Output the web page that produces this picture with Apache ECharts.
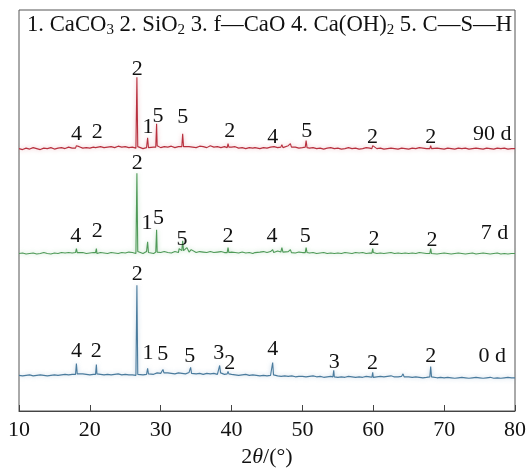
<!DOCTYPE html>
<html>
<head>
<meta charset="utf-8">
<script src="https://cdn.jsdelivr.net/npm/echarts@6/dist/echarts.min.js"></script>
<style>
html,body{margin:0;padding:0;background:#fff;}
#chart{width:529px;height:473px;}
</style>
</head>
<body>
<div id="chart"></div>
<script>
// 2θ grid of the baseline samples (10 … 80, every 0.5°)
const thetaStart = 10, thetaStep = 0.5;

// baseline noise (intensity above each trace's baseline), read/
const noise90d = [
 0,-1,0.5,-0.5,1,0,-1,0.5,0,1,
 -0.5,0.5,1,0,1.5,0.5,1,2,0.5,1,
 0.5,1.5,1,2,1,1.5,2,1,2.5,1.5,
 2,1,1.5,0.5,2,0,1,2,1.5,3,
 1,2,1.5,2.5,1,2,1,3,2,1.5,
 1,2.5,2,1,3,1.5,2,1,2,2.5,
 1.5,2,0.5,1,0,1,0.5,1.5,0,1,
 0.5,1.5,2,1,2.5,1.5,3,1,1.5,0.5,
 1,2,0.5,1,0,0.5,-0.5,0.5,1,0,
 0.5,-0.5,0,1,0,0.5,-0.5,0,1,0.5,
 1,0,0.5,-0.5,0,0.5,0,-0.5,0.5,0,
 -0.5,0.5,0,1,0.5,0,-0.5,0,0.5,0,
 -0.5,0.5,0,-0.5,0.5,0,0.5,-0.5,0,0.5,
 0,-0.5,0.5,0,-0.5,0.5,0,0.5,-0.5,0,
 0
];
const noise7d = [
 0,0.5,-0.5,0,0.5,-0.5,0,1,0,-0.5,
 0.5,0,1,0.5,1,0.5,1.5,0.5,1,0,
 0.5,1,0,1,0.5,0,1,0.5,0,1,
 0.5,1.5,1,0,1,0,2,1,0,1.5,
 1,2,1,0.5,2,1,3,2,1.5,2.5,
 1,2,1.5,1,2,1,1.5,2,1,0.5,
 1.5,1,0.5,1.5,0.5,1,0,1,1.5,2,
 1,2,1.5,2.5,2,1,2,1,0.5,1.5,
 1,2,0.5,1,0,0.5,1,0,0.5,0,
 0.5,0,1,0.5,0,1,0.5,1,0,0.5,
 1,0,0.5,0,0.5,1,0,0.5,0,0.5,
 0,0.5,0,1,0.5,0,0.5,0,-0.5,0,
 0.5,0,-0.5,0,0.5,0,-0.5,0,0.5,-0.5,
 0,0.5,0,-0.5,0,0.5,-0.5,0,-0.5,0,
 0
];
const noise0d = [
 0,-0.5,0,0.5,-0.5,0,0.5,0,-0.5,0,
 0.5,0,0.5,1,0.5,1,2,1,1.5,1,
 0.5,1,1.5,1,0.5,1,0.5,1,1.5,0.5,
 1,0.5,0.5,0,1,0.5,1,2,1,2.5,
 2,3,2.5,2,1.5,2.5,2,1.5,3,2,
 1.5,2,1,2,1.5,2,1,1.5,1,0.5,
 1,0.5,0,0.5,1,0,0.5,0,-0.5,0,
 -0.5,0,0.5,-0.5,-1,-0.5,-1,-0.5,-1.5,-1,
 -1,-1.5,-1,-0.5,-1.5,-1,-2,-1.5,-1,-1.5,
 -2,-1.5,-2,-1,-1.5,-2,-1.5,-2,-1,-1.5,
 -2,-1.5,-1,-1.5,-1,-0.5,-1,-1.5,-1,-2,
 -1.5,-2,-1.5,-2,-2.5,-2,-1.5,-2,-2.5,-2,
 -2.5,-2,-2.5,-3,-2.5,-2,-2.5,-3,-2.5,-2,
 -2.5,-3,-2.5,-2,-3,-2.5,-3,-2.5,-2,-2.5,
 -2.5
];

// diffraction peaks [2θ, intensity above baseline]
const peaks90d = [
 [17.98,0.5],[18.1,3],[18.22,1],
 [20.8,1],[20.92,3],[21.05,1.5],
 [26.52,2],[26.64,72],[26.76,2],
 [28.05,1],[28.15,11],[28.27,1],
 [29.3,1.5],[29.42,25],[29.55,1.5],
 [32.98,2],[33.1,15],[33.22,2],
 [39.38,1],[39.5,5],[39.62,1.5],
 [43.3,1],[43.4,3],[43.55,1],
 [46.95,1.5],[47.1,4],[47.25,1],
 [48.15,1],[48.3,5],[48.45,1.5],
 [50.4,1.5],[50.52,8],[50.65,1],
 [59.8,0],[59.92,3],[60.05,0.5],
 [67.98,0],[68.1,3],[68.22,0]
];
const peaks7d = [
 [17.98,1],[18.1,5],[18.22,1],
 [20.8,1],[20.92,5],[21.05,1],
 [26.52,2],[26.64,81],[26.76,2],
 [28.05,1.5],[28.15,12],[28.27,1],
 [29.3,1.5],[29.42,24],[29.55,1.5],
 [32.6,5],[32.98,3],[33.1,13],[33.22,3],[33.7,6],[34.3,4],
 [39.38,1],[39.5,6],[39.62,1],
 [43.3,1],[43.4,3],[43.55,1],
 [45.7,0.5],[45.8,4],[45.95,1],
 [46.95,1.5],[47.1,6],[47.25,1.5],
 [48.15,1],[48.3,4],[48.45,1],
 [50.4,1],[50.52,6],[50.65,1],
 [59.8,0.5],[59.92,5],[60.05,0.5],
 [67.98,0],[68.1,5],[68.22,0]
];
const peaks0d = [
 [17.98,1],[18.1,12],[18.22,1.5],
 [20.8,1],[20.92,11],[21.05,1.5],
 [26.52,1],[26.64,91],[26.76,1],
 [28.05,1],[28.15,7],[28.27,1.5],
 [30.2,2],[30.32,6],[30.45,2.5],
 [34.1,2],[34.22,8],[34.35,2],
 [38.2,2],[38.32,10],[38.45,2.5],
 [39.38,1.5],[39.5,4],[39.62,1.5],
 [45.68,0],[45.8,13],[45.92,0.5],
 [54.3,-1.5],[54.42,5],[54.55,-1.5],
 [59.8,-2],[59.92,3],[60.05,-1.5],
 [62.6,-1.5],[62.75,1.5],[62.9,-1.5],
 [64.05,-1],[64.2,1.5],[64.35,-1.5],
 [67.98,-1.5],[68.1,9],[68.22,-1.5]
];

// vertical offset (stacking) of each pattern
const offset90d = 265, offset7d = 159, offset0d = 36;

// phase labels [2θ, height, text]
const labels90d = [
 [18.1,280,'4'],[21.05,282,'2'],[26.7,345,'2'],[28.2,287,'1'],[29.6,298,'5'],
 [33.1,297,'5'],[39.75,283,'2'],[45.8,277,'4'],[50.6,283,'5'],[59.9,277,'2'],
 [68.1,277,'2'],[76.8,280,'90 d']
];
const labels7d = [
 [18.0,177,'4'],[21.05,182,'2'],[26.7,250,'2'],[28.05,190,'1'],[29.7,195,'5'],
 [33.0,173,'5'],[39.5,177,'2'],[45.7,177,'4'],[50.4,177,'5'],[60.1,173,'2'],
 [68.3,172,'2'],[77.1,180,'7 d']
];
const labels0d = [
 [18.1,60,'4'],[20.9,60,'2'],[26.7,138,'2'],[28.2,58,'1'],[30.3,57,'5'],
 [34.1,55,'5'],[38.2,58,'3'],[39.75,48,'2'],[45.8,62,'4'],[54.5,49,'3'],
 [59.9,48,'2'],[68.1,55,'2'],[76.8,55,'0 d']
];

const xTicks = {min: 10, max: 80, interval: 10};
const legendText = '1. CaCO{s|3} 2. SiO{s|2} 3. f—CaO 4. Ca(OH){s|2} 5. C—S—H';

function buildTrace(noise, peaks, offset) {
  const pts = noise.map((v, i) => [thetaStart + i * thetaStep, v]).concat(peaks);
  pts.sort((a, b) => a[0] - b[0]);
  return pts.map(p => [p[0], p[1] + offset]);
}

const FONT = '"Liberation Serif","Times New Roman",serif';

function lineSeries(data, color, halo) {
  return {
    type: 'line', data: data, showSymbol: false, silent: true,
    lineStyle: {color: color, width: 1.1, shadowColor: halo, shadowBlur: 4},
    z: 2
  };
}
function labelSeries(labels) {
  return {
    type: 'scatter', data: labels, symbolSize: 1, silent: true,
    itemStyle: {color: 'rgba(0,0,0,0)'},
    label: {show: true, position: 'inside', formatter: p => p.value[2],
            color: '#111', opacity: 1, textBorderWidth: 0, fontSize: 22, fontFamily: FONT},
    labelLayout: {hideOverlap: false},
    z: 5
  };
}

const chart = echarts.init(document.getElementById('chart'));
chart.setOption({
  animation: false,
  backgroundColor: '#fff',
  title: {
    text: legendText, left: 27, top: 12, padding: 0,
    textStyle: {
      fontFamily: FONT, fontSize: 22.7, fontWeight: 'normal', color: '#111', lineHeight: 26,
      rich: {s: {fontFamily: FONT, fontSize: 15, verticalAlign: 'bottom', lineHeight: 15, color: '#111'}}
    }
  },
  grid: {left: 19, right: 11, top: 10, bottom: 58, show: true, borderColor: '#555', borderWidth: 1, backgroundColor: 'transparent'},
  xAxis: {
    type: 'value', min: xTicks.min, max: xTicks.max, interval: xTicks.interval,
    axisLine: {show: true, lineStyle: {color: '#444', width: 1}},
    axisTick: {show: true, inside: true, length: 6, lineStyle: {color: '#444'}},
    axisLabel: {color: '#111', fontSize: 22, fontFamily: FONT, margin: 8},
    splitLine: {show: false},
    name: '2{i|θ}/(°)', nameLocation: 'middle', nameGap: 35,
    nameTextStyle: {color: '#111', fontSize: 22, fontFamily: FONT,
      rich: {i: {fontStyle: 'italic', fontSize: 22, fontFamily: FONT, color: '#111'}}}
  },
  yAxis: {
    type: 'value', min: 0, max: 405,
    axisLine: {show: false}, axisTick: {show: false}, axisLabel: {show: false}, splitLine: {show: false}
  },
  series: [
    lineSeries(buildTrace(noise90d, peaks90d, offset90d), '#b8303e', 'rgba(220,130,140,0.6)'),
    lineSeries(buildTrace(noise7d, peaks7d, offset7d), '#4f9a58', 'rgba(130,195,140,0.6)'),
    lineSeries(buildTrace(noise0d, peaks0d, offset0d), '#4a7b9d', 'rgba(140,175,205,0.6)'),
    labelSeries(labels90d), labelSeries(labels7d), labelSeries(labels0d)
  ]
});
</script>
</body>
</html>
